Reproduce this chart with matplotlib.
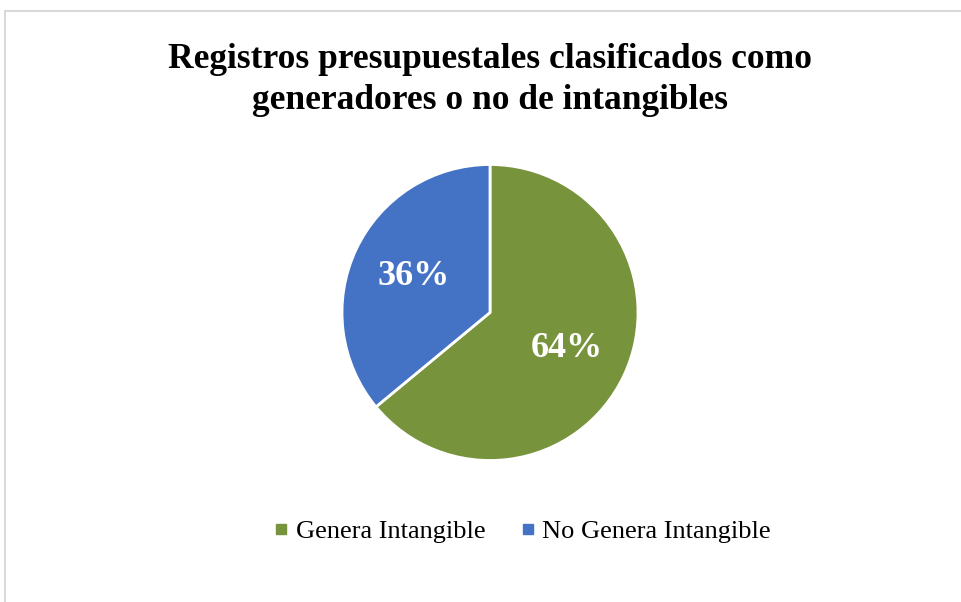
import matplotlib.pyplot as plt
from matplotlib.lines import Line2D
from matplotlib.patches import Rectangle

# Datos
categorias = ['Genera Intangible', 'No Genera Intangible']
valores = [64, 36]
colores = ['#77933C', '#4472C4']
titulo = 'Registros presupuestales clasificados como\ngeneradores o no de intangibles'

plt.rcParams['font.family'] = ['Liberation Serif', 'DejaVu Serif']

W, H = 961, 602
fig = plt.figure(figsize=(W / 100, H / 100), dpi=100)

# borde del grafico
fig.patches.append(Rectangle((5 / W, -0.01), 1.0, (H - 11) / H + 0.01,
                             transform=fig.transFigure, fill=False,
                             edgecolor='#D9D9D9', linewidth=1.5))

cx, cy, r = 490, H - 312.5, 148
ax = fig.add_axes([(cx - r) / W, (cy - r) / H, 2 * r / W, 2 * r / H])
wedges, textos, autotextos = ax.pie(
    valores, colors=colores, startangle=90, counterclock=False,
    autopct='%1.0f%%', pctdistance=0.57,
    wedgeprops=dict(edgecolor='white', linewidth=2),
    textprops=dict(color='white', fontsize=26, fontweight='bold'))
for w in wedges:
    w.set_clip_on(False)
ax.set_xlim(-1, 1)
ax.set_ylim(-1, 1)
ax.set_aspect('equal')

fig.text(cx / W, (H - 80) / H, titulo, ha='center', va='center',
         fontsize=25.5, fontweight='bold', linespacing=1.3)

handles = [Line2D([], [], marker='s', linestyle='none', markersize=6.5,
                  color=c) for c in colores]
fig.legend(handles, categorias, loc='center', ncol=2,
           bbox_to_anchor=(520 / W, (H - 531) / H), frameon=False,
           fontsize=19, handletextpad=0.1, columnspacing=1.15,
           handlelength=0.9)

fig.savefig('out.png', dpi=100)
